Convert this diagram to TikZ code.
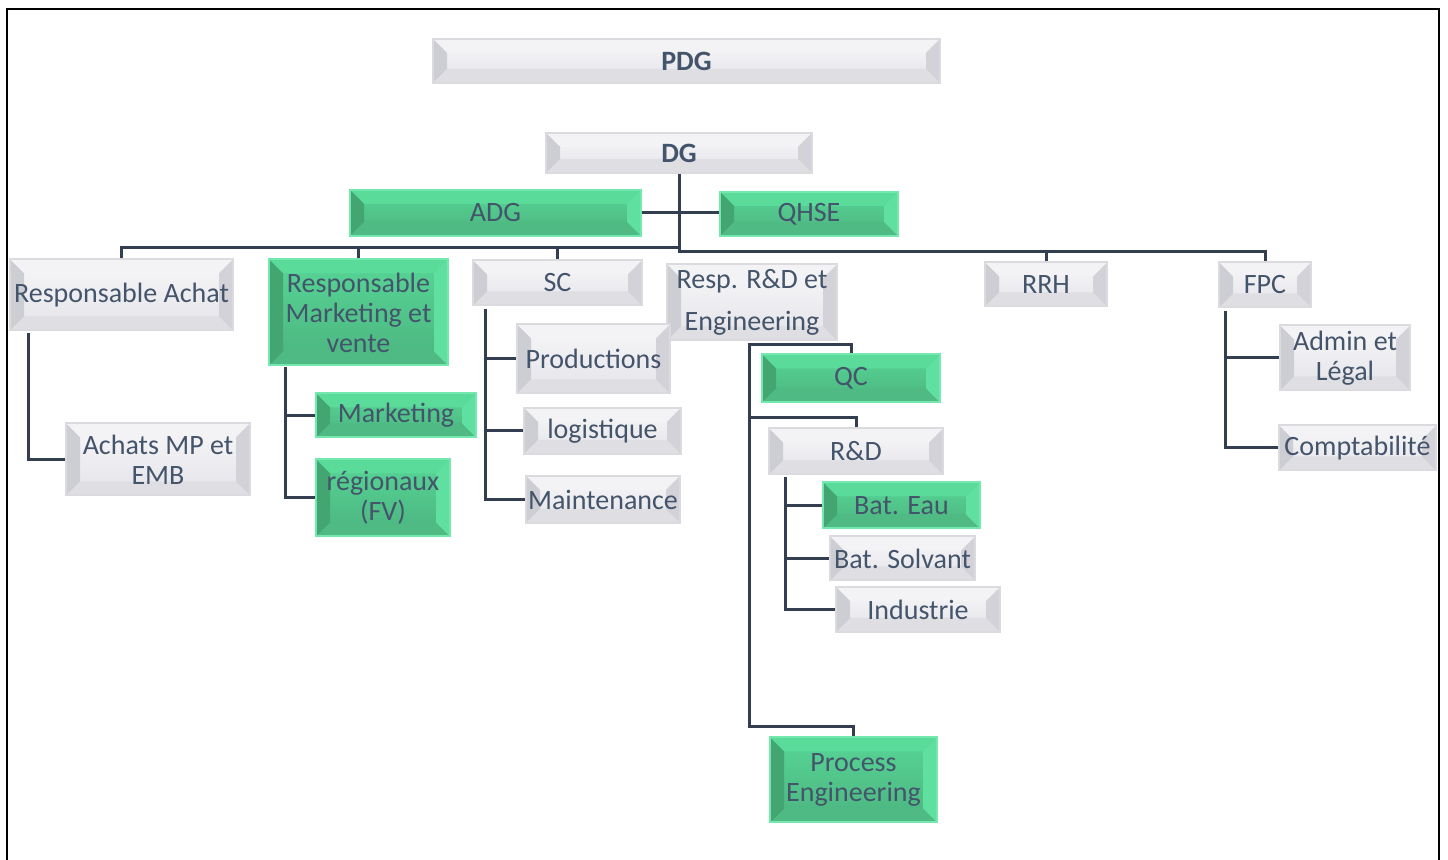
\documentclass[tikz,border=0pt]{standalone}
\usepackage{fontspec}
\setmainfont{Carlito}
\usetikzlibrary{calc}
\definecolor{txt}{HTML}{44546A}
\definecolor{ln}{HTML}{333F50}
\definecolor{gyTop}{HTML}{F7F7F9}
\definecolor{gyBot}{HTML}{E4E4E9}
\definecolor{gyL}{HTML}{CDCDD4}
\definecolor{gyB}{HTML}{DEDEE3}
\definecolor{gyR}{HTML}{D2D2D8}
\definecolor{gyT}{HTML}{F3F3F6}
\definecolor{gyEdge}{HTML}{DADADF}
\definecolor{grTop}{HTML}{57D596}
\definecolor{grBot}{HTML}{4CB47F}
\definecolor{grL}{HTML}{43A572}
\definecolor{grB}{HTML}{4FBA83}
\definecolor{grR}{HTML}{5FE0A0}
\definecolor{grT}{HTML}{5ADB9A}
\definecolor{grEdge}{HTML}{74E8AE}
\newcommand\bevelfaces[4]{%
  \fill[#4] (path picture bounding box.north west) -- ++(7pt,-7pt) -- ($(path picture bounding box.north east)+(-7pt,-7pt)$) -- (path picture bounding box.north east) -- cycle;
  \fill[#2] (path picture bounding box.south west) -- ++(7pt,7pt) -- ($(path picture bounding box.south east)+(-7pt,7pt)$) -- (path picture bounding box.south east) -- cycle;
  \fill[#3] (path picture bounding box.north east) -- ++(-7pt,-7pt) -- ($(path picture bounding box.south east)+(-7pt,7pt)$) -- (path picture bounding box.south east) -- cycle;
  \fill[#1] (path picture bounding box.north west) -- ++(7pt,-7pt) -- ($(path picture bounding box.south west)+(7pt,7pt)$) -- (path picture bounding box.south west) -- cycle;
}
\tikzset{
  box/.style={rectangle, inner sep=0pt, align=center, text=txt,
    font=\fontsize{14}{15}\selectfont, line width=1pt},
  graybox/.style={box, draw=gyEdge, top color=gyTop, bottom color=gyBot,
    path picture={\bevelfaces{gyL}{gyB}{gyR}{gyT}}},
  greenbox/.style={box, draw=grEdge, top color=grTop, bottom color=grBot,
    path picture={\bevelfaces{grL}{grB}{grR}{grT}}},
  sz/.style 2 args={minimum width=#1*0.5pt, minimum height=#2*0.5pt},
  conn/.style={draw=ln, line width=1.5pt},
}
\begin{document}
\begin{tikzpicture}[x=0.5pt,y=-0.5pt]
\useasboundingbox (0,0) rectangle (1448,860);
\fill[white] (0,0) rectangle (1448,860);
\draw[line width=1pt] (7,860) -- (7,9) -- (1439,9) -- (1439,860);

% level 0-1
\node[graybox, sz={507}{44}, font=\fontsize{14}{15}\selectfont\bfseries] (PDG) at (686.5,61) {PDG};
\node[graybox, sz={266}{40}, font=\fontsize{14}{15}\selectfont\bfseries] (DG) at (679,153) {DG};
\node[greenbox, sz={291}{46}] (ADG) at (495.5,213) {ADG};
\node[greenbox, sz={178}{44}] (QHSE) at (809,214) {QHSE};

% level 2
\node[graybox, sz={223}{71}] (Achat) at (121.5,295) {Responsable Achat};
\node[greenbox, sz={179}{106}] (RMV) at (358.5,312.5) {Responsable\\Marketing et\\vente};
\node[graybox, sz={169}{45}] (SC) at (557.5,283) {SC};
\node[graybox, sz={170}{76}] (RRD) at (752,302.5) {Resp. R\&D et\\[6pt]Engineering};
\node[graybox, sz={122}{44}] (RRH) at (1046,284.5) {RRH};
\node[graybox, sz={92}{45}] (FPC) at (1265,285) {FPC};

% level 3
\node[graybox, sz={184}{72}] (AMP) at (158,459.5) {Achats MP et\\EMB};
\node[greenbox, sz={160}{44}] (MKT) at (396,415.5) {Marketing};
\node[greenbox, sz={134}{77}] (REG) at (383,498) {régionaux\\(FV)};
\node[graybox, sz={153}{69}] (PROD) at (593.5,359) {Productions};
\node[graybox, sz={157}{46}] (LOG) at (602.5,431) {logistique};
\node[graybox, sz={154}{47}] (MAINT) at (603,499.5) {Maintenance};
\node[greenbox, sz={178}{48}] (QC) at (851,378.5) {QC};
\node[graybox, sz={174}{46}] (RD) at (856,451.5) {R\&D};
\node[greenbox, sz={157}{46}] (EAU) at (901.5,505.5) {Bat. Eau};
\node[graybox, sz={145}{44}] (SOLV) at (902.5,558.5) {Bat. Solvant};
\node[graybox, sz={164}{45}] (IND) at (918,609.5) {Industrie};
\node[greenbox, sz={167}{85}] (PE) at (853.5,780) {Process\\Engineering};
\node[graybox, sz={130}{65}] (ADM) at (1345,358) {Admin et\\Légal};
\node[graybox, sz={157}{45}] (COMPTA) at (1357.5,448) {Comptabilité};

% connectors from DG
\draw[conn] (DG.south) -- (DG.south |- 0,252) -| (FPC.north);
\draw[conn] (DG.south |- 0,248) -| (Achat.north);
\draw[conn] (RMV.north) -- (RMV.north |- 0,248);
\draw[conn] (SC.north) -- (SC.north |- 0,248);
\draw[conn] ($(RRD.north)+(-2,0)$) -- ($(RRD.north)+(-2,0)$ |- 0,252);
\draw[conn] (RRH.north) -- (RRH.north |- 0,252);
\draw[conn] (ADG.east) -- (ADG.east -| QHSE.west);

% Achat
\coordinate (av) at ($(Achat.south west)+(19,2)$);
\draw[conn] (av) |- (AMP.west);
% Marketing
\coordinate (mv) at ($(RMV.south west)+(17,1)$);
\draw[conn] (mv) |- (MKT.west);
\draw[conn] (mv) |- (REG.west);
% SC
\coordinate (sv) at ($(SC.south west)+(13,3)$);
\draw[conn] (sv) |- (PROD.west);
\draw[conn] (sv) |- (LOG.west);
\draw[conn] (sv) |- (MAINT.west);
% R&D et Engineering
\coordinate (rv) at ($(RRD.south)+(-3,2)$);
\draw[conn] (rv) |- ($(QC.north)+(0,-9)$) -- (QC.north);
\draw[conn] (rv) |- ($(RD.north)+(0,-10)$) -- (RD.north);
\draw[conn] (rv) |- ($(PE.north)+(0,-10)$) -- (PE.north);
% R&D
\coordinate (dv) at ($(RD.south west)+(17,2)$);
\draw[conn] (dv) |- (EAU.west);
\draw[conn] (dv) |- (SOLV.west);
\draw[conn] (dv) |- (IND.west);
% FPC
\coordinate (fv) at ($(FPC.south west)+(7,3)$);
\draw[conn] (fv) |- (ADM.west);
\draw[conn] (fv) |- (COMPTA.west);
\end{tikzpicture}
\end{document}
